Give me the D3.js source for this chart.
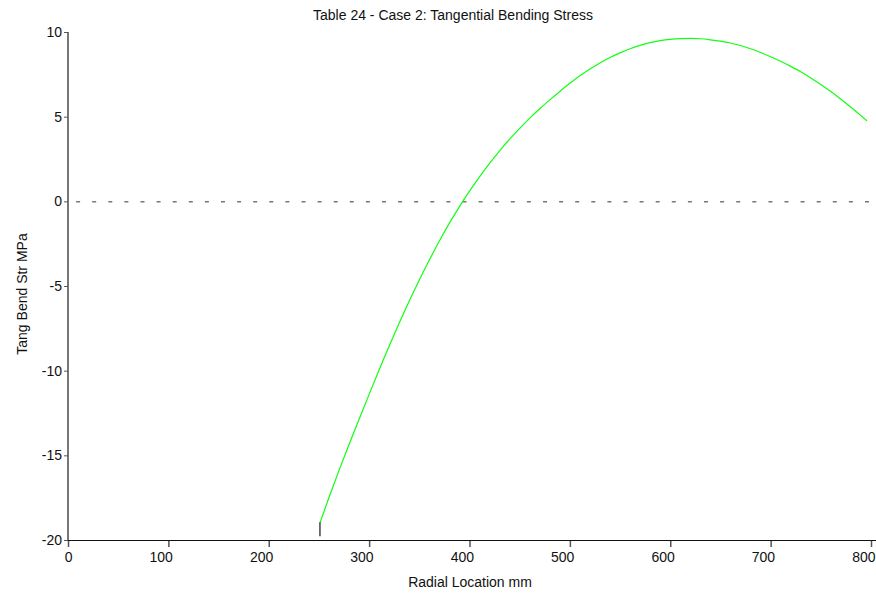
<!DOCTYPE html>
<html>
<head>
<meta charset="utf-8">
<script src="https://cdn.jsdelivr.net/npm/d3@7"></script>
<style>
  html, body { margin: 0; padding: 0; background: #fff; }
  svg { display: block; font-family: "Liberation Sans", Arial, sans-serif; }
</style>
</head>
<body>
<svg id="chart" width="876" height="594"></svg>
<script>
// Radial location (mm) and tangential bending stress (MPa)
const radialMm = [251, 260, 270, 280, 290, 300, 310, 320, 330, 340, 350, 360, 370, 380, 390,
  400, 410, 420, 430, 440, 450, 460, 470, 480, 490, 500, 510, 520, 530, 540, 550, 560,
  570, 580, 590, 600, 610, 620, 630, 640, 650, 660, 670, 680, 690, 700, 710, 720, 730,
  740, 750, 760, 770, 780, 790, 796];
const stressMPa = [-19.0, -17.49, -15.89, -14.36, -12.87, -11.40, -9.95, -8.54, -7.18, -5.88, -4.64, -3.46, -2.34, -1.29, -0.31,
  0.60, 1.45, 2.24, 2.98, 3.67, 4.31, 4.91, 5.47, 5.99, 6.49, 6.97, 7.41, 7.81, 8.17, 8.49, 8.77, 9.01,
  9.21, 9.37, 9.49, 9.57, 9.61, 9.62, 9.60, 9.54, 9.46, 9.35, 9.20, 9.01, 8.79, 8.54, 8.27, 7.97, 7.65,
  7.29, 6.90, 6.48, 6.03, 5.56, 5.06, 4.75];
// Short marker at the inner edge
const edgeMarkR = [251, 251];
const edgeMarkV = [-18.95, -19.78];

const xTicks = [0, 100, 200, 300, 400, 500, 600, 700, 800];
const yTicks = [-20, -15, -10, -5, 0, 5, 10];

const titleText = "Table 24 - Case 2: Tangential Bending Stress";
const xTitle = "Radial Location mm";
const yTitle = "Tang Bend Str MPa";

const svg = d3.select("#chart");
const plotL = 68, plotR = 871, plotT = 32, plotB = 540;
const font = "'Liberation Sans', Arial, sans-serif";

const x = d3.scaleLinear().domain([0, 800]).range([plotL, plotR]);
const y = d3.scaleLinear().domain([-20, 10]).range([plotB, plotT]);

// zero reference line
svg.append("line")
  .attr("x1", x(0)).attr("x2", x(800))
  .attr("y1", y(0) + 0.5).attr("y2", y(0) + 0.5)
  .attr("stroke", "#333").attr("stroke-width", 1)
  .attr("stroke-dasharray", "4,12.1")
  .attr("stroke-dashoffset", 8);

// x axis
const xAxis = svg.append("g")
  .attr("transform", `translate(0,${plotB})`)
  .call(d3.axisBottom(x).tickValues(xTicks).tickSize(7).tickPadding(5).tickFormat(d => String(d)));
xAxis.select(".domain").remove();
xAxis.append("line")
  .attr("x1", plotL).attr("x2", 876).attr("y1", 0.5).attr("y2", 0.5)
  .attr("stroke", "#111").attr("stroke-width", 1);
xAxis.selectAll(".tick line").attr("stroke", "#555").attr("stroke-width", 1.5);
xAxis.selectAll(".tick text")
  .attr("fill", "#111")
  .attr("text-anchor", "end")
  .attr("x", 4)
  .style("font-size", "14px")
  .style("font-family", font);

// y axis
const yAxis = svg.append("g")
  .attr("transform", `translate(${plotL},0)`)
  .call(d3.axisLeft(y).tickValues(yTicks).tickSize(4).tickPadding(2).tickFormat(d => String(d)));
yAxis.select(".domain").attr("stroke", "#555").attr("stroke-width", 1.6)
  .attr("d", `M0,${plotT}V${plotB}`);
yAxis.selectAll(".tick line").attr("stroke", "#555").attr("stroke-width", 1);
yAxis.selectAll(".tick text").attr("fill", "#111").style("font-size", "14px")
  .style("font-family", font);

// stress curve
const pts = radialMm.map((r, i) => [r, stressMPa[i]]);
svg.append("path")
  .datum(pts)
  .attr("fill", "none")
  .attr("stroke", "#11ff11")
  .attr("stroke-width", 1.2)
  .attr("d", d3.line().x(d => x(d[0])).y(d => y(d[1])).curve(d3.curveMonotoneX));

svg.append("line")
  .attr("x1", x(edgeMarkR[0])).attr("x2", x(edgeMarkR[1]))
  .attr("y1", y(edgeMarkV[0])).attr("y2", y(edgeMarkV[1]))
  .attr("stroke", "#444").attr("stroke-width", 1.5);

// titles
svg.append("text")
  .attr("x", 453).attr("y", 20)
  .attr("text-anchor", "middle")
  .style("font-size", "14px").attr("fill", "#111")
  .text(titleText);

svg.append("text")
  .attr("x", 470).attr("y", 587)
  .attr("text-anchor", "middle")
  .style("font-size", "14px").attr("fill", "#111")
  .text(xTitle);

svg.append("text")
  .attr("transform", `translate(27,${(plotT + plotB) / 2 + 8}) rotate(-90)`)
  .attr("text-anchor", "middle")
  .style("font-size", "14px").attr("fill", "#111")
  .text(yTitle);
</script>
</body>
</html>
